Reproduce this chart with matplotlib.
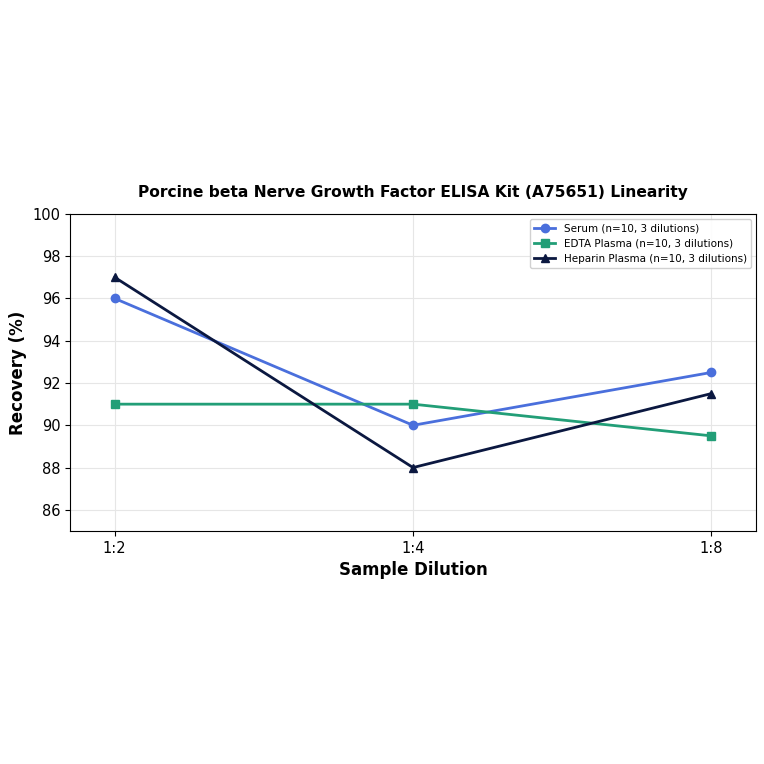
import matplotlib
matplotlib.use("Agg")
import matplotlib.pyplot as plt

dilutions = ["1:2", "1:4", "1:8"]
serum = [96, 90, 92.5]
edta = [91, 91, 89.5]
heparin = [97, 88, 91.5]
labels = ["Serum (n=10, 3 dilutions)", "EDTA Plasma (n=10, 3 dilutions)",
          "Heparin Plasma (n=10, 3 dilutions)"]
yticks = [86, 88, 90, 92, 94, 96, 98, 100]

fig = plt.figure(figsize=(7.64, 7.64), dpi=100)
ax = fig.add_axes([0.0916, 0.305, 0.898, 0.415])

x = list(range(len(dilutions)))
ax.plot(x, serum, color="#4a6fdc", marker="o", lw=2, ms=6, label=labels[0])
ax.plot(x, edta, color="#229e77", marker="s", lw=2, ms=6, label=labels[1])
ax.plot(x, heparin, color="#0b1840", marker="^", lw=2, ms=6, label=labels[2])

ax.set_xticks(x)
ax.set_xticklabels(dilutions)
ax.set_xlim(-0.15, 2.15)
ax.set_ylim(85, 100)
ax.set_yticks(yticks)
ax.tick_params(labelsize=10.5)
ax.grid(True, color="#e6e6e6", lw=0.8)
ax.set_axisbelow(True)

ax.set_xlabel("Sample Dilution", fontsize=12, fontweight="bold")
ax.set_ylabel("Recovery (%)", fontsize=12, fontweight="bold")
ax.set_title("Porcine beta Nerve Growth Factor ELISA Kit (A75651) Linearity",
             fontsize=11.2, fontweight="bold", pad=12)
ax.legend(loc="upper right", fontsize=7.5, framealpha=0.9)

plt.savefig("out.png", dpi=100)
